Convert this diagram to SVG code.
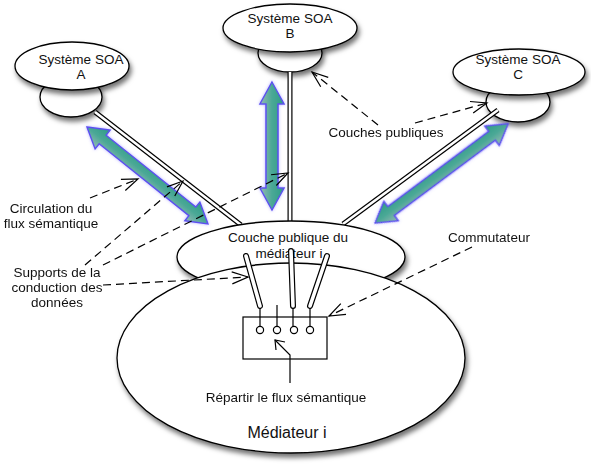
<svg xmlns="http://www.w3.org/2000/svg" width="591" height="465" viewBox="0 0 591 465">
<style>
.shape{fill:#fff;stroke:#000;stroke-width:1.3;filter:url(#sh)}
.lbl{font-family:"Liberation Sans",Arial,sans-serif;font-size:13.5px;fill:#111;text-anchor:middle}
.big{font-size:16px}
.dl1{stroke:#000;stroke-width:5;fill:none}
.dl2{stroke:#fff;stroke-width:2.6;fill:none}
.cap1{stroke:#000;stroke-width:6;stroke-linecap:round;fill:none}
.cap2{stroke:#fff;stroke-width:3.6;stroke-linecap:round;fill:none}
.dash{stroke:#000;stroke-width:1.2;stroke-dasharray:8,5;fill:none;marker-end:url(#open)}
.thin{stroke:#000;stroke-width:1.2;fill:none}
.garrow{fill:url(#gg);stroke:#5b4ff0;stroke-width:1.4;stroke-linejoin:miter}
</style>
<defs>
<filter id="sh" x="-20%" y="-20%" width="140%" height="150%">
<feDropShadow dx="2" dy="4" stdDeviation="2.5" flood-color="#000" flood-opacity="0.55"/>
</filter>
<filter id="glow" x="-20%" y="-20%" width="140%" height="140%">
<feDropShadow dx="0" dy="0" stdDeviation="1.5" flood-color="#6a5cff" flood-opacity="0.5"/>
</filter>
<linearGradient id="gg" x1="0" y1="0" x2="0" y2="1">
<stop offset="0" stop-color="#2e9c86"/>
<stop offset="0.5" stop-color="#4aa896"/>
<stop offset="1" stop-color="#95b9b4"/>
</linearGradient>
<marker id="open" viewBox="-17 -8 19 16" markerWidth="19" markerHeight="16" refX="0" refY="0" orient="auto" markerUnits="userSpaceOnUse">
<path d="M-16,-6 L0,0 L-16,6" fill="none" stroke="#000" stroke-width="1.2"/>
</marker>
</defs>

<g id="systeme-a">
<ellipse class="shape" cx="71" cy="97" rx="31" ry="20"/>
<ellipse class="shape" cx="72" cy="66" rx="57" ry="24"/>
<text class="lbl" x="81" y="64">Système SOA</text>
<text class="lbl" x="81" y="79">A</text>
</g>
<g id="systeme-b">
<ellipse class="shape" cx="290" cy="53" rx="32" ry="19"/>
<ellipse class="shape" cx="290" cy="28" rx="67" ry="24"/>
<text class="lbl" x="290" y="23">Système SOA</text>
<text class="lbl" x="290" y="38">B</text>
</g>
<g id="systeme-c">
<ellipse class="shape" cx="518" cy="102" rx="32" ry="20"/>
<ellipse class="shape" cx="519" cy="72" rx="66" ry="23"/>
<text class="lbl" x="518" y="64">Système SOA</text>
<text class="lbl" x="518" y="79">C</text>
</g>

<g id="connectors">
<line class="dl1" x1="95" y1="112" x2="241" y2="225"/>
<line class="dl2" x1="95" y1="112" x2="241" y2="225"/>
<line class="dl1" x1="290" y1="72" x2="290" y2="224"/>
<line class="dl2" x1="290" y1="72" x2="290" y2="224"/>
<line class="dl1" x1="498" y1="110" x2="343" y2="224"/>
<line class="dl2" x1="498" y1="110" x2="343" y2="224"/>
</g>

<g id="couche-publique">
<ellipse class="shape" cx="291" cy="257" rx="114" ry="36"/>
</g>
<g id="mediateur">
<ellipse class="shape" cx="291" cy="358" rx="174" ry="95"/>
<text class="lbl big" x="287" y="438">Médiateur i</text>
</g>
<g id="couche-text">
<text class="lbl" x="288" y="242">Couche publique du</text>
<text class="lbl" x="289" y="258">médiateur i</text>
</g>

<g id="fleches-flux" filter="url(#glow)">
<g transform="translate(87,127) rotate(38.7)">
<polygon class="garrow" points="0,0 20,-12 20,-5.5 135,-5.5 135,-12 155,0 135,12 135,5.5 20,5.5 20,12"/>
</g>
<g transform="translate(272,82) rotate(90)">
<polygon class="garrow" points="0,0 22,-12 22,-6 106,-6 106,-12 128,0 106,12 106,6 22,6 22,12"/>
</g>
<g transform="translate(375,223) rotate(-36.7)">
<polygon class="garrow" points="0,0 20,-12 20,-5.5 146,-5.5 146,-12 166,0 146,12 146,5.5 20,5.5 20,12"/>
</g>
</g>

<g id="commutateur">
<rect x="243" y="317" width="84" height="42" fill="#fff" stroke="#000" stroke-width="1.2"/>
<line class="thin" x1="260" y1="305" x2="260" y2="326"/>
<line class="thin" x1="277" y1="305" x2="277" y2="326"/>
<line class="thin" x1="293" y1="305" x2="293" y2="326"/>
<line class="thin" x1="310" y1="305" x2="310" y2="326"/>
<circle cx="260" cy="330" r="3.6" fill="#fff" stroke="#000" stroke-width="1.2"/>
<circle cx="277" cy="330" r="3.6" fill="#fff" stroke="#000" stroke-width="1.2"/>
<circle cx="294" cy="330" r="3.6" fill="#fff" stroke="#000" stroke-width="1.2"/>
<circle cx="310" cy="330" r="3.6" fill="#fff" stroke="#000" stroke-width="1.2"/>
<path d="M290,383 L290,355 L275,340" class="thin"/>
<path d="M276,350 L275,340 L285,342" class="thin"/>
</g>

<g id="supports">
<line class="cap1" x1="246" y1="256" x2="260" y2="306"/>
<line class="cap2" x1="246" y1="256" x2="260" y2="306"/>
<line class="cap1" x1="291" y1="251" x2="293" y2="306"/>
<line class="cap2" x1="291" y1="251" x2="293" y2="306"/>
<line class="cap1" x1="327" y1="256" x2="310" y2="306"/>
<line class="cap2" x1="327" y1="256" x2="310" y2="306"/>
</g>

<g id="annotations">
<line class="dash" x1="378" y1="125" x2="312" y2="72"/>
<line class="dash" x1="415" y1="123" x2="487" y2="103"/>
<line class="dash" x1="90" y1="198" x2="138" y2="179"/>
<line class="dash" x1="85" y1="265" x2="183" y2="181"/>
<line class="dash" x1="103" y1="265" x2="288" y2="173"/>
<line class="dash" x1="103" y1="285" x2="248" y2="277"/>
<line class="dash" x1="472" y1="247" x2="329" y2="316"/>
<text class="lbl" x="386" y="137">Couches publiques</text>
<text class="lbl" x="51" y="213">Circulation du</text>
<text class="lbl" x="51" y="228">flux sémantique</text>
<text class="lbl" x="57" y="277">Supports de la</text>
<text class="lbl" x="57" y="292">conduction des</text>
<text class="lbl" x="57" y="307">données</text>
<text class="lbl" x="489" y="242">Commutateur</text>
<text class="lbl" x="286" y="402">Répartir le flux sémantique</text>
</g>
</svg>
